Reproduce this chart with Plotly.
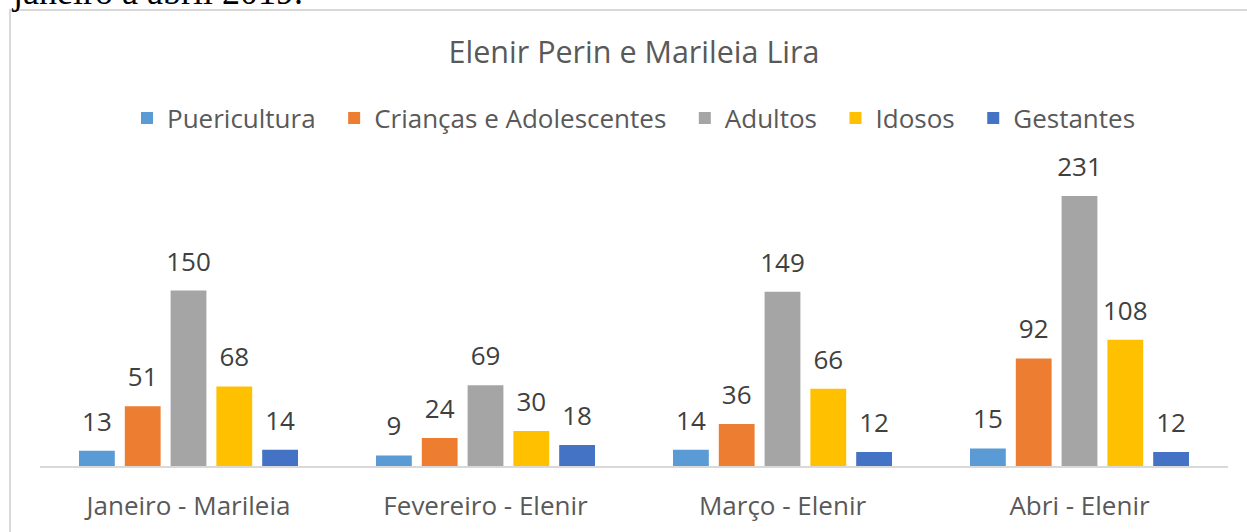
import plotly.graph_objects as go

categories = ["Janeiro - Marileia", "Fevereiro - Elenir", "Março - Elenir", "Abri - Elenir"]
series_names = ["Puericultura", "Crianças e Adolescentes", "Adultos", "Idosos", "Gestantes"]
puericultura = [13, 9, 14, 15]
criancas = [51, 24, 36, 92]
adultos = [150, 69, 149, 231]
idosos = [68, 30, 66, 108]
gestantes = [14, 18, 12, 12]
colors = ["#5B9BD5", "#ED7D31", "#A5A5A5", "#FFC000", "#4472C4"]
title_text = "Elenir Perin e Marileia Lira"
caption_text = "janeiro a abril 2019."

values = [puericultura, criancas, adultos, idosos, gestantes]

FONT = "Open Sans"
W, H = 1247, 532
ML, MR, MT, MB = 40, 19, 162, 66
plot_w = W - ML - MR
plot_h = H - MT - MB
BASE_Y = H - MB  # pixel of the axis line
BARGAP = 0.229
LABEL_SIZE = 26

fig = go.Figure()
for name, vals, col in zip(series_names, values, colors):
    fig.add_trace(go.Bar(
        x=categories, y=vals,
        name=name + ("" if name == series_names[-1] else "\u00a0\u00a0"),
        marker=dict(color=col, line=dict(width=0)),
        hoverinfo="skip",
    ))
for name, vals in zip(series_names, values):
    fig.add_trace(go.Scatter(
        x=categories, y=vals, mode="markers+text",
        text=[str(v) for v in vals], textposition="top center",
        textfont=dict(family=FONT, size=LABEL_SIZE, color="#404040"),
        marker=dict(size=20, color="rgba(0,0,0,0)"),
        showlegend=False, cliponaxis=False, hoverinfo="skip",
    ))

def px_x(p):
    return (p - ML) / plot_w

def px_y(p):
    return (BASE_Y - p) / plot_h

fig.update_layout(
    width=W, height=H,
    margin=dict(l=ML, r=MR, t=MT, b=MB, autoexpand=False),
    paper_bgcolor="white", plot_bgcolor="white",
    barmode="group", bargap=BARGAP, bargroupgap=0.218,
    scattermode="group", scattergap=BARGAP,
    font=dict(family=FONT, color="#595959"),
    title=dict(text=title_text, x=0.5, xref="paper", xanchor="center",
               y=1 - 52 / H, yref="container", yanchor="middle",
               font=dict(family=FONT, size=30.5, color="#595959")),
    legend=dict(orientation="h", x=0.5, xanchor="center",
                y=px_y(118), yanchor="middle",
                font=dict(family=FONT, size=26, color="#595959"),
                bgcolor="rgba(0,0,0,0)", itemclick=False),
    xaxis=dict(showgrid=False, ticks="", showline=True, linecolor="#D9D9D9",
               linewidth=2, tickfont=dict(family=FONT, size=26, color="#595959"),
               ticklabelstandoff=16, fixedrange=True, automargin=False),
    yaxis=dict(range=[0, 260], visible=False, showgrid=False, zeroline=False,
               fixedrange=True, automargin=False),
    shapes=[dict(type="rect", xref="paper", yref="paper",
                 x0=px_x(10), x1=px_x(W + 20), y0=px_y(H + 20), y1=px_y(10),
                 line=dict(color="#D9D9D9", width=2), fillcolor="rgba(0,0,0,0)",
                 layer="below")],
    annotations=[dict(text=caption_text, xref="paper", yref="paper",
                      x=px_x(9), y=px_y(14), xanchor="left", yanchor="bottom",
                      showarrow=False,
                      font=dict(family="Liberation Serif", size=36, color="#000000"))],
    showlegend=True,
)

fig.write_html(
    "out.html",
    config={"displayModeBar": False},
    post_script="document.body.style.margin='0';document.body.style.overflow='hidden';",
)
